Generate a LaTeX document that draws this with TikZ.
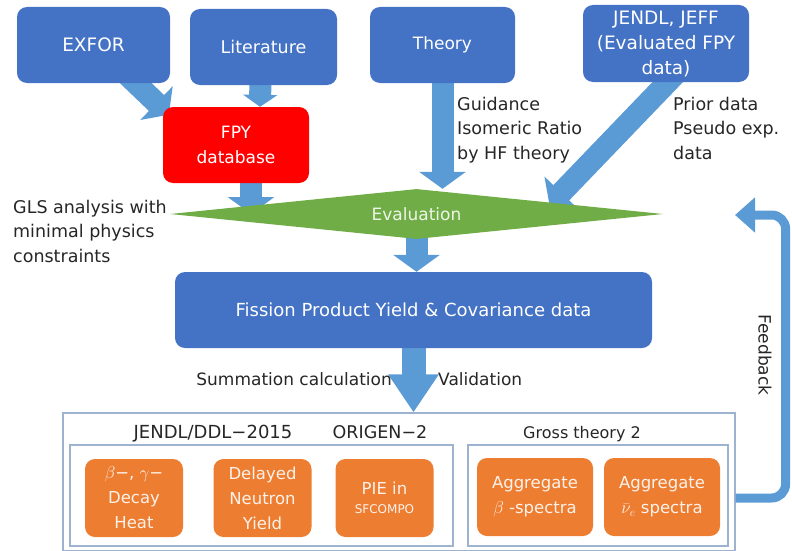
\documentclass[tikz,border=0pt]{standalone}
\usepackage{fontspec}
\setmainfont{DejaVu Sans}
\usetikzlibrary{shapes.geometric,arrows.meta,positioning,backgrounds,calc}

\definecolor{boxblue}{HTML}{4472C4}
\definecolor{flowblue}{HTML}{5B9BD5}
\definecolor{dbred}{HTML}{FF0000}
\definecolor{evalgreen}{HTML}{70AD47}
\definecolor{appl}{HTML}{ED7D31}
\definecolor{framegray}{HTML}{9DB3CF}
\definecolor{labelgray}{HTML}{262626}

\begin{document}
\begin{tikzpicture}[
    x=1pt, y=-1pt,
    font=\fontsize{17}{25}\selectfont,
    srcblock/.style={
        rectangle,
        fill=boxblue,
        text=white,
        rounded corners=10pt,
        align=center,
        inner sep=2pt
    },
    dbblock/.style={srcblock, fill=dbred},
    evalblock/.style={
        diamond,
        aspect=10,
        fill=evalgreen,
        text=white!88!evalgreen,
        minimum width=493pt,
        minimum height=50pt,
        inner sep=0pt
    },
    appblock/.style={
        rectangle,
        fill=appl,
        text=white!90!appl,
        rounded corners=10pt,
        align=center,
        minimum width=98pt,
        minimum height=78pt,
        inner sep=1pt,
        font=\fontsize{16.5}{25}\selectfont
    },
    groupframe/.style={draw=framegray, line width=1.2pt, inner sep=0pt},
    note/.style={align=left, anchor=north west, inner sep=0pt, text=labelgray,
        font=\fontsize{17.5}{24.5}\selectfont},
    head/.style={anchor=base, inner sep=0pt, text=labelgray},
    flow/.style={draw=flowblue, line width=22pt, -{Triangle[width=46pt,length=17pt]}},
    small flow/.style={flow, -{Triangle[width=34pt,length=12pt]}},
    big flow/.style={flow, line width=24pt, -{Triangle[width=48pt,length=38pt]}},
    feedback line/.style={draw=flowblue, line width=9pt, rounded corners=14pt,
        -{Triangle[width=34pt,length=20pt]}}
]
\useasboundingbox (0,0) rectangle (792,551);

% Data sources
\node [srcblock, minimum width=153pt, minimum height=76pt, font=\fontsize{18.5}{25}\selectfont]
    (exfor) at (93.5,45) {EXFOR};
\node [srcblock, minimum width=147pt, minimum height=76pt, font=\fontsize{17.5}{25}\selectfont]
    (literature) at (263.5,47) {Literature};
\node [srcblock, minimum width=145pt, minimum height=76pt] (theory) at (442.5,45) {Theory};
\node [srcblock, minimum width=166pt, minimum height=77pt, font=\fontsize{18.5}{25}\selectfont]
    (jendl) at (666,43.5) {JENDL, JEFF\\(Evaluated FPY\\data)};

% Database
\node [dbblock, minimum width=146pt, minimum height=76pt] (fpy) at (236,145) {FPY\\database};

% Evaluation and result
\node [evalblock] (eval) at (416.5,214) {Evaluation};
\node [srcblock, minimum width=477pt, minimum height=76pt, font=\fontsize{18}{25}\selectfont]
    (fpyield) at (413.5,310) {Fission Product Yield \& Covariance data};

% Side notes
\node [note] (gls) at (13,200) {GLS analysis with\\minimal physics\\constraints};
\node [note] (guide) at (457,97) {Guidance\\Isomeric Ratio\\by HF theory};
\node [note] (prior) at (673,97) {Prior data\\Pseudo exp.\\data};
\node [head, anchor=base east] (sumcalc) at (392,385) {Summation calculation};
\node [head, anchor=base west] (valid) at (438,385) {Validation};

% Application frames
\node [groupframe, minimum width=672pt, minimum height=138pt] (lower) at (399,482) {};
\node [groupframe, minimum width=383pt, minimum height=101pt] (calcgroup) at (261.5,495.5) {};
\node [groupframe, minimum width=260pt, minimum height=101pt] (grossgroup) at (598,495.5) {};
\node [head, font=\fontsize{18}{25}\selectfont] (ddl) at (213,438) {JENDL/DDL−2015};
\node [head, font=\fontsize{17.5}{25}\selectfont] (origen) at (380,438) {ORIGEN−2};
\node [head, font=\fontsize{16}{25}\selectfont] (gross) at (582,438) {Gross theory 2};

% Applications
\node [appblock] (decay) at (134,498) {$\beta$−, $\gamma$−\\Decay\\Heat};
\node [appblock] (delayed) at (262.5,498) {Delayed\\Neutron\\Yield};
\node [appblock] (pie) at (384.5,498) {PIE in\\[-6pt]{\fontsize{12}{14}\selectfont SFCOMPO}};
\node [appblock, minimum width=116pt] (aggbeta) at (535,497) {Aggregate\\$\beta$ -spectra};
\node [appblock, minimum width=116pt] (aggnu) at (662,497) {Aggregate\\$\bar{\nu}_e$ spectra};

% Block arrows behind the boxes
\begin{scope}[on background layer]
    \draw [flow] ([xshift=-50pt,yshift=15pt]exfor.south east) -- ([xshift=6pt,yshift=-8pt]fpy.north west);
    \draw [small flow] ([xshift=-3pt,yshift=10pt]literature.south) -- ([xshift=24pt]fpy.north);
    \draw [flow] ([xshift=15pt,yshift=10pt]fpy.south) -- ([xshift=15pt]fpy.south |- eval.center);
    \draw [flow] ([yshift=10pt]theory.south) -- (theory.south |- eval.north);
    \draw [flow] ([xshift=16pt,yshift=15pt]jendl.south) -- ([xshift=133pt,yshift=9pt]eval.center);
    \draw [flow] ([yshift=8pt]eval.south) -- (eval.south |- fpyield.north);
    \draw [big flow] ([yshift=5pt]fpyield.south) -- (fpyield.south |- lower.north);
\end{scope}

% Feedback loop
\coordinate (fbtip) at (735,215);
\draw [feedback line] ([yshift=-16pt]lower.east) -- ++(50,0) |- (fbtip);
\node [rotate=-90, text=labelgray] (fbtext) at (765,355) {Feedback};

\end{tikzpicture}
\end{document}
